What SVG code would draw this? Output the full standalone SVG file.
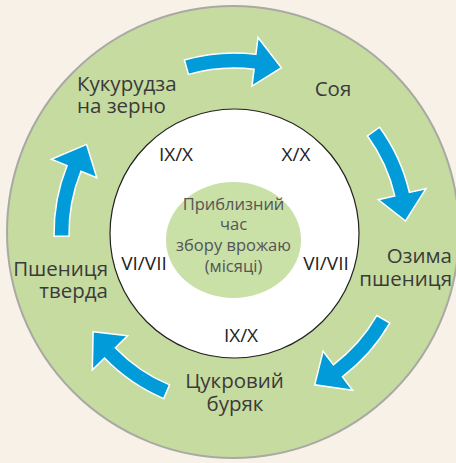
<svg xmlns="http://www.w3.org/2000/svg" width="456" height="463" viewBox="0 0 456 463">
<defs>
<style>
.lbl{font-family:"Open Sans","Noto Sans","DejaVu Sans",sans-serif;font-size:20.5px;fill:#3a3a3a}
.mon{font-family:"Open Sans","Noto Sans","DejaVu Sans",sans-serif;font-size:19px;fill:#222}
.ctr{font-family:"Open Sans","Noto Sans","DejaVu Sans",sans-serif;font-size:16.5px;fill:#555;text-anchor:middle}
.arr{fill:#009bd8;stroke:#ffffff;stroke-width:1.5;stroke-linejoin:miter}
</style>
<path id="arrow" class="arr" d="M -49.6,-173.0 A 180 180 0 0 1 21.9,-178.7 L 24.0,-195.5 L 47.4,-165.3 L 18.0,-146.9 L 20.1,-163.8 A 165 165 0 0 0 -45.5,-158.6 Z"/>
</defs>
<rect width="456" height="463" fill="#f8f1e8"/>
<g id="rings">
<circle cx="233" cy="232" r="226" fill="#c6dba0" stroke="#a9a9a4" stroke-width="2"/>
<circle cx="234.5" cy="233.5" r="124.5" fill="#ffffff" stroke="#222" stroke-width="1.2"/>
<ellipse cx="233.5" cy="240" rx="67.5" ry="58" fill="#c9e0a7"/>
</g>
<g id="connectors">
<use href="#arrow" transform="translate(234,233) rotate(0)"/>
<use href="#arrow" transform="translate(234,233) rotate(70)"/>
<use href="#arrow" transform="translate(234,233) rotate(136)"/>
<use href="#arrow" transform="translate(234,233) rotate(219)"/>
<use href="#arrow" transform="translate(234,233) rotate(285)"/>
</g>
<g id="node-kukurudza"><text class="lbl" x="77" y="91">Кукурудза</text><text class="lbl" x="77" y="113">на зерно</text></g>
<g id="node-soya"><text class="lbl" x="333" y="96" text-anchor="middle">Соя</text></g>
<g id="node-ozyma"><text class="lbl" x="452" y="263" text-anchor="end">Озима</text><text class="lbl" x="452" y="286" text-anchor="end">пшениця</text></g>
<g id="node-tsukrovyi"><text class="lbl" x="234.5" y="388" text-anchor="middle">Цукровий</text><text class="lbl" x="235" y="411" text-anchor="middle">буряк</text></g>
<g id="node-pshenytsia"><text class="lbl" x="108" y="276" text-anchor="end">Пшениця</text><text class="lbl" x="108" y="298" text-anchor="end">тверда</text></g>
<g id="months">
<text class="mon" x="176" y="161" text-anchor="middle">IX/X</text>
<text class="mon" x="296" y="161" text-anchor="middle">X/X</text>
<text class="mon" x="144" y="270" text-anchor="middle">VI/VII</text>
<text class="mon" x="326" y="270" text-anchor="middle">VI/VII</text>
<text class="mon" x="241" y="342" text-anchor="middle">IX/X</text>
</g>
<g id="center">
<text class="ctr" x="233.5" y="210">Приблизний</text>
<text class="ctr" x="233.5" y="230">час</text>
<text class="ctr" x="233.5" y="251">збору врожаю</text>
<text class="ctr" x="233.5" y="272">(місяці)</text>
</g>
</svg>
